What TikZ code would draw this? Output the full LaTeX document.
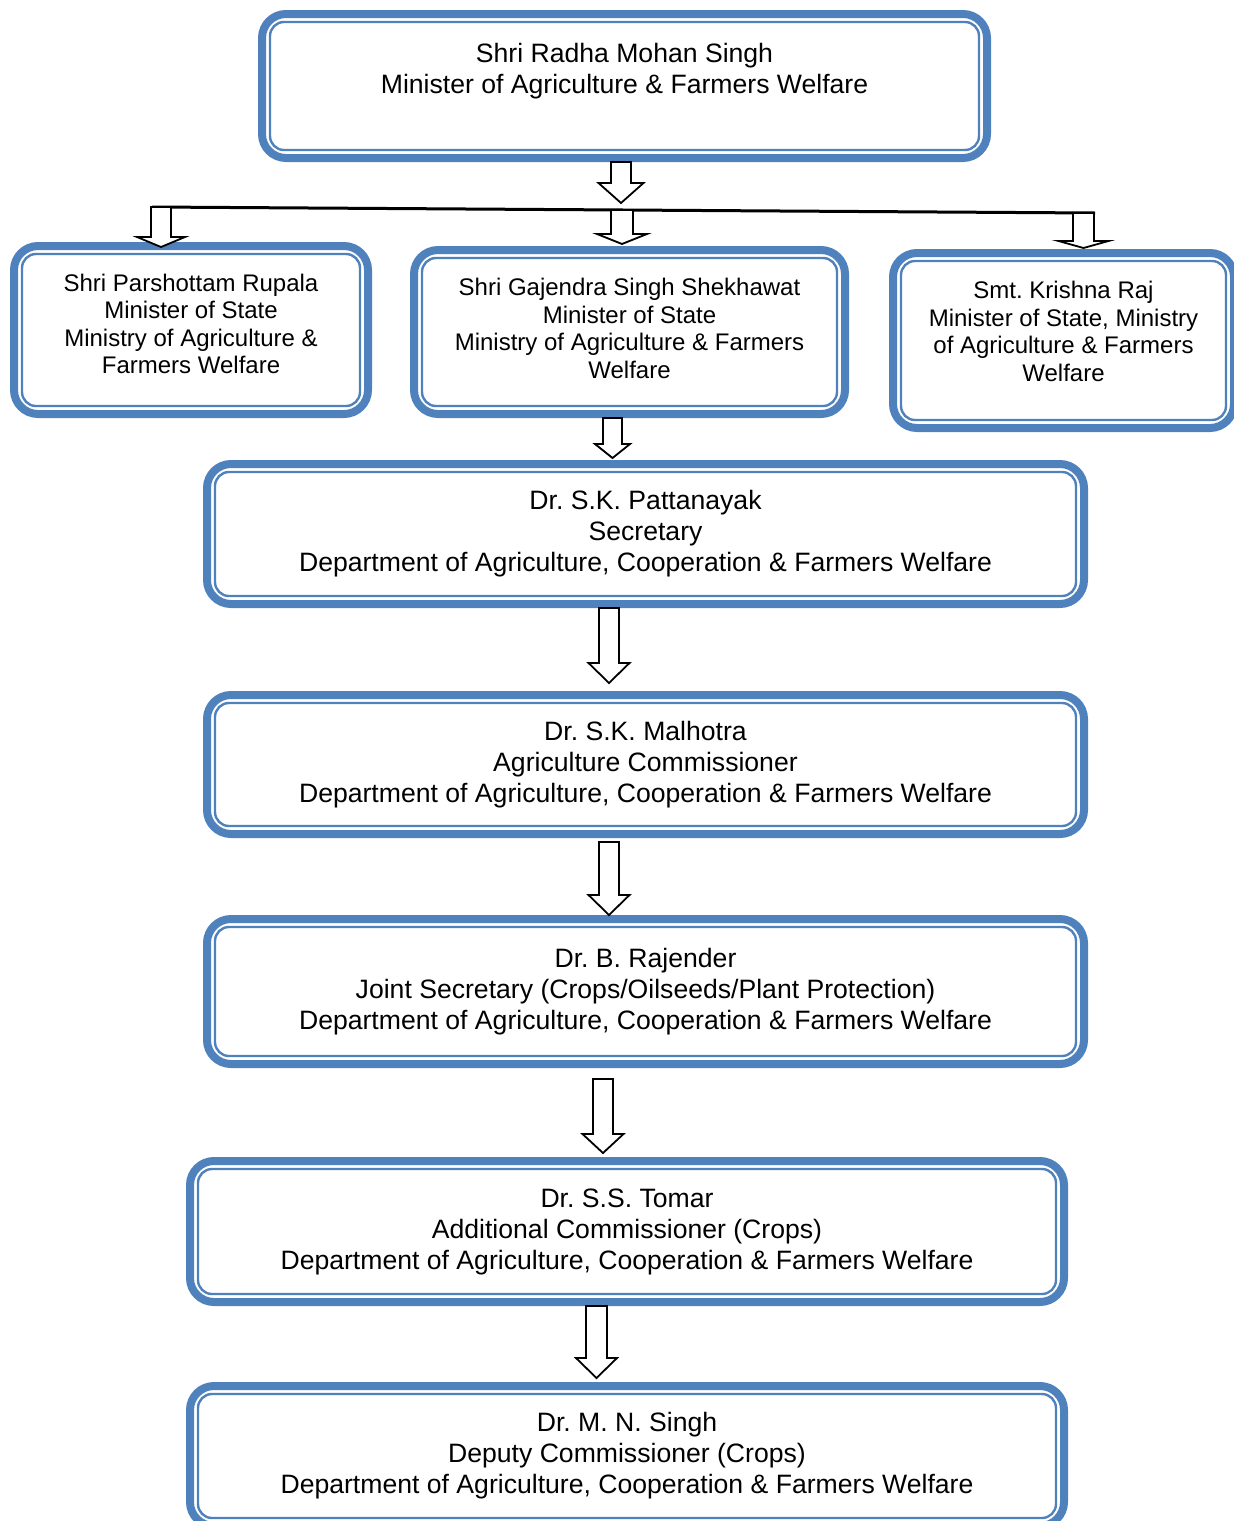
\documentclass[tikz,border=0pt]{standalone}
\usepackage{fontspec}
\setmainfont{Liberation Sans}
\usepackage{xcolor}
\usepackage{tikz}
\usetikzlibrary{calc}

\definecolor{boxblue}{HTML}{4F81BD}

\tikzset{
  rolebox/.style={draw=boxblue, line width=4pt, rounded corners=12pt, align=center,
    inner sep=0pt, font=\fontsize{13.3}{15.5}\selectfont\frenchspacing},
  smallbox/.style={rolebox, font=\fontsize{12}{13.75}\selectfont\frenchspacing},
  innerframe/.style={draw=boxblue, line width=1.2pt, rounded corners=7pt},
  blockarrow/.style={draw=black, line width=0.9pt, fill=white, line join=miter},
  barline/.style={line width=1.5pt}
}

% hollow block arrow: top, tip, half shaft, half head, head length
\newcommand{\hollowarrow}[5]{%
  \draw[blockarrow] ($(#1)+(-#3,0)$) -- ($(#2)+(-#3,-#5)$) -- ($(#2)+(-#4,-#5)$) -- (#2)
    -- ($(#2)+(#4,-#5)$) -- ($(#2)+(#3,-#5)$) -- ($(#1)+(#3,0)$) -- cycle;}

\begin{document}
\begin{tikzpicture}[x=0.5pt,y=-0.5pt]
  \useasboundingbox (0,0) rectangle (1233,1521);

  % ministers
  \node[rolebox, minimum width=362.5pt, minimum height=72pt, text depth=17.8pt] (minister) at (624.5,86)
    {Shri Radha Mohan Singh\\Minister of Agriculture \& Farmers Welfare};
  \node[smallbox, minimum width=177pt, minimum height=84pt, text depth=6pt] (rupala) at (191,330)
    {Shri Parshottam Rupala\\Minister of State\\Ministry of Agriculture \&\\Farmers Welfare};
  \node[smallbox, minimum width=215.5pt, minimum height=82pt, text depth=3.5pt] (shekhawat) at (629.5,332)
    {Shri Gajendra Singh Shekhawat\\Minister of State\\Ministry of Agriculture \& Farmers\\Welfare};
  \node[smallbox, minimum width=170.5pt, minimum height=87.5pt, text depth=9pt] (krishnaraj) at (1063.5,340.5)
    {Smt. Krishna Raj\\Minister of State, Ministry\\of Agriculture \& Farmers\\Welfare};

  % department
  \node[rolebox, minimum width=438.5pt, minimum height=70pt] (secretary) at (645.5,534)
    {Dr. S.K. Pattanayak\\Secretary\\Department of Agriculture, Cooperation \& Farmers Welfare};
  \node[rolebox, minimum width=438.5pt, minimum height=69.5pt] (commissioner) at (645.5,764.5)
    {Dr. S.K. Malhotra\\Agriculture Commissioner\\Department of Agriculture, Cooperation \& Farmers Welfare};
  \node[rolebox, minimum width=438.5pt, minimum height=72.5pt] (jointsecy) at (645.5,991.5)
    {Dr. B. Rajender\\Joint Secretary (Crops/Oilseeds/Plant Protection)\\Department of Agriculture, Cooperation \& Farmers Welfare};
  \node[rolebox, minimum width=437pt, minimum height=70.5pt] (addlcomm) at (627,1231.5)
    {Dr. S.S. Tomar\\Additional Commissioner (Crops)\\Department of Agriculture, Cooperation \& Farmers Welfare};
  \node[rolebox, minimum width=437pt, minimum height=70pt] (deputycomm) at (627,1456)
    {Dr. M. N. Singh\\Deputy Commissioner (Crops)\\Department of Agriculture, Cooperation \& Farmers Welfare};

  \foreach \n in {minister,rupala,shekhawat,krishnaraj,secretary,commissioner,jointsecy,addlcomm,deputycomm}{
    \draw[innerframe] ([xshift=6pt,yshift=6pt]\n.south west) rectangle ([xshift=-6pt,yshift=-6pt]\n.north east);
  }

  % branching bar
  \coordinate (split) at (621,203);
  \coordinate (barL) at (152,207);
  \coordinate (barR) at (1095,213);
  \coordinate (drop1) at (161,207);
  \coordinate (drop2) at (622,210);
  \coordinate (drop3) at (1083.5,213);
  \draw[barline] (barL) -- (barR);

  \hollowarrow{minister.south -| split}{split}{10}{22.5}{20}
  \hollowarrow{drop1}{[yshift=-2.5pt]rupala.north -| drop1}{10}{24}{10}
  \hollowarrow{drop2}{[yshift=1pt]shekhawat.north -| drop2}{11}{25}{10}
  \hollowarrow{drop3}{[yshift=0.5pt]krishnaraj.north -| drop3}{10.5}{25}{7}

  % chain down
  \coordinate (x4) at (612.5,0);
  \coordinate (x5) at (609,0);
  \coordinate (x7) at (603,0);
  \coordinate (x8) at (596.5,0);
  \hollowarrow{shekhawat.south -| x4}{[yshift=1pt]secretary.north -| x4}{9.5}{17.5}{14}
  \hollowarrow{secretary.south -| x5}{[yshift=4pt]commissioner.north -| x5}{10}{20.5}{20}
  \hollowarrow{[yshift=-2pt]commissioner.south -| x5}{jointsecy.north -| x5}{10}{20.5}{20}
  \hollowarrow{[yshift=-5.5pt]jointsecy.south -| x7}{[yshift=2pt]addlcomm.north -| x7}{10}{20.5}{19}
  \hollowarrow{addlcomm.south -| x8}{[yshift=2pt]deputycomm.north -| x8}{10.5}{20.5}{20}
\end{tikzpicture}
\end{document}
